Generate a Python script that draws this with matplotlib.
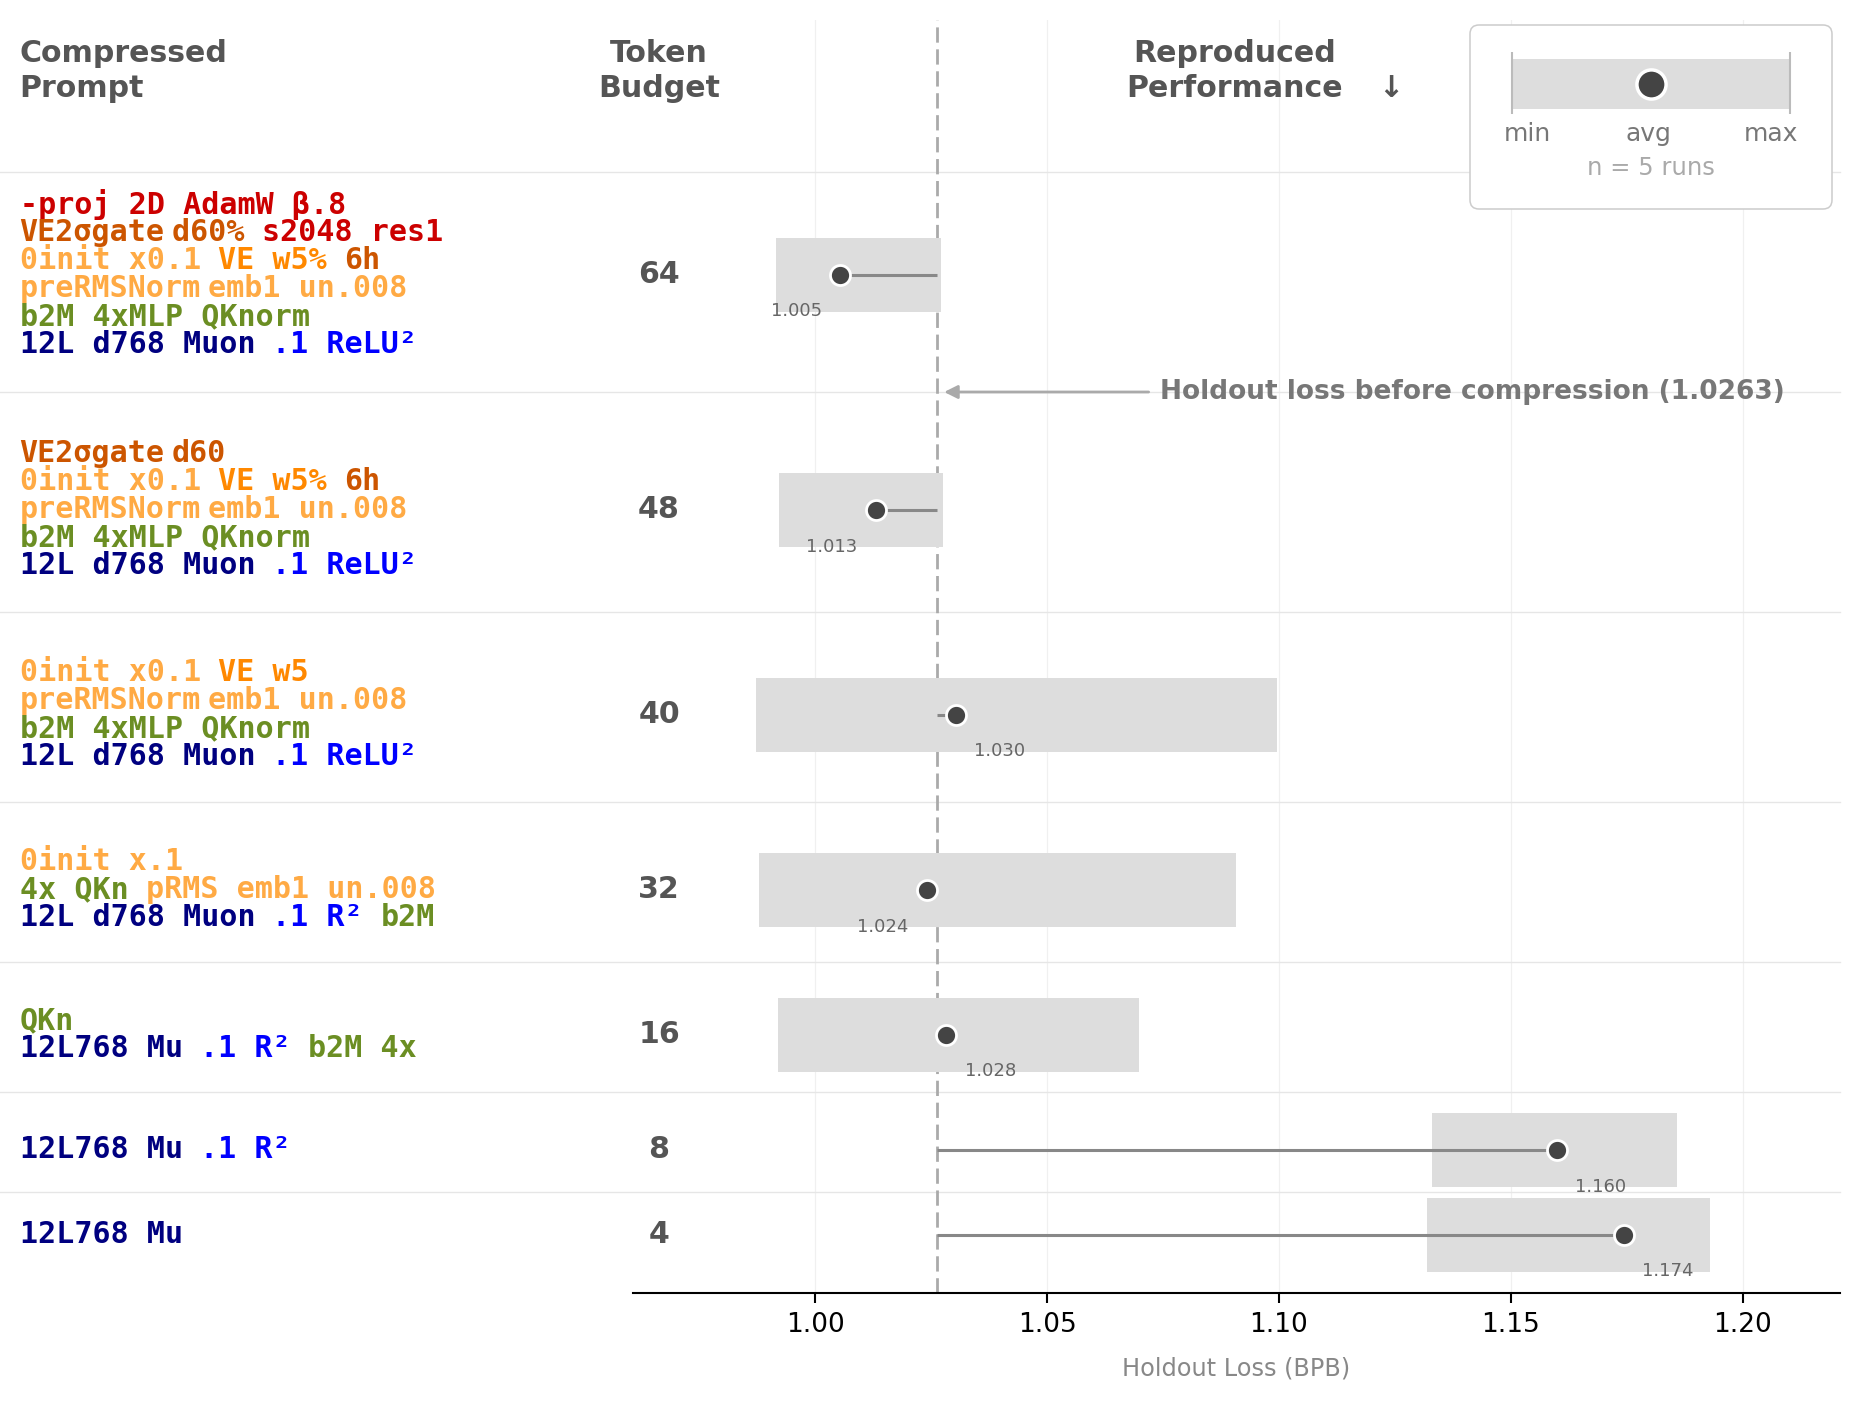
import matplotlib
matplotlib.use("Agg")
import matplotlib.pyplot as plt
from matplotlib.patches import FancyBboxPatch, Rectangle
from matplotlib.transforms import blended_transform_factory

# ---------------- data ----------------
budgets = [64, 48, 40, 32, 16, 8, 4]
loss_avg = [1.0054, 1.0130, 1.0303, 1.0241, 1.0283, 1.1599, 1.1744]
loss_min = [0.9915, 0.9921, 0.9873, 0.9878, 0.9919, 1.1331, 1.1319]
loss_max = [1.0271, 1.0275, 1.0995, 1.0907, 1.0698, 1.1859, 1.1929]
baseline_loss = 1.0263
n_runs = 5
x_ticks = [1.00, 1.05, 1.10, 1.15, 1.20]
x_tick_labels = ["1.00", "1.05", "1.10", "1.15", "1.20"]

RED = "#cc0000"
BURNT = "#cc5500"
ORANGE = "#ff8800"
LIGHT = "#ffaa44"
GREEN = "#6b8e23"
NAVY = "#000080"
BLUE = "#0000ff"

# each prompt: list of lines; each line: list of (text, colour) segments
prompt_64 = [
    [("-proj 2D AdamW β.8", RED)],
    [("VE2σgate", BURNT), ("d60% ", BURNT), ("s2048 res1", RED)],
    [("0init x0.1 ", LIGHT), ("VE w5% ", ORANGE), ("6h", BURNT)],
    [("preRMSNorm", LIGHT), ("emb1 un.008", LIGHT)],
    [("b2M 4xMLP QKnorm", GREEN)],
    [("12L d768 Muon ", NAVY), (".1 ReLU²", BLUE)],
]
prompt_48 = [
    [("VE2σgate", BURNT), ("d60", BURNT)],
    [("0init x0.1 ", LIGHT), ("VE w5% ", ORANGE), ("6h", BURNT)],
    [("preRMSNorm", LIGHT), ("emb1 un.008", LIGHT)],
    [("b2M 4xMLP QKnorm", GREEN)],
    [("12L d768 Muon ", NAVY), (".1 ReLU²", BLUE)],
]
prompt_40 = [
    [("0init x0.1 ", LIGHT), ("VE w5", ORANGE)],
    [("preRMSNorm", LIGHT), ("emb1 un.008", LIGHT)],
    [("b2M 4xMLP QKnorm", GREEN)],
    [("12L d768 Muon ", NAVY), (".1 ReLU²", BLUE)],
]
prompt_32 = [
    [("0init x.1", LIGHT)],
    [("4x QKn ", GREEN), ("pRMS emb1 un.008", LIGHT)],
    [("12L d768 Muon ", NAVY), (".1 R² ", BLUE), ("b2M", GREEN)],
]
prompt_16 = [
    [("QKn", GREEN)],
    [("12L768 Mu ", NAVY), (".1 R² ", BLUE), ("b2M 4x", GREEN)],
]
prompt_8 = [
    [("12L768 Mu ", NAVY), (".1 R²", BLUE)],
]
prompt_4 = [
    [("12L768 Mu", NAVY)],
]
prompts = [prompt_64, prompt_48, prompt_40, prompt_32, prompt_16, prompt_8, prompt_4]

# ---------------- layout (pixels) ----------------
W, H = 1857, 1402
DPI = 100
AX_LEFT, AX_RIGHT, AX_TOP, AX_BOTTOM = 633, 1840, 20, 1293
HEADER_RULE = 172
FIRST_ROW = 274.5
LINE_H = 28
BAR_H = 74
FS_BIG = 21.6
MONO_ADV = 1233 / 2048 * FS_BIG * DPI / 72
TIGHT = 8

HEAD_C = "#555555"
BAR_C = "#dddddd"
DOT_C = "#444444"
SEG_C = "#888888"
DASH_C = "#aaaaaa"
SEP_C = "#e6e6e6"
GRID_C = "#f0f0f0"

# row centres from number of prompt lines
centres = [FIRST_ROW]
for a, b in zip(prompts[:-1], prompts[1:]):
    centres.append(centres[-1] + 55 + 30 * max(len(a), len(b)))

fig = plt.figure(figsize=(W / DPI, H / DPI), dpi=DPI)
fig.patch.set_facecolor("white")

ax = fig.add_axes([AX_LEFT / W, (H - AX_BOTTOM) / H,
                   (AX_RIGHT - AX_LEFT) / W, (AX_BOTTOM - AX_TOP) / H])
ov = fig.add_axes([0, 0, 1, 1], zorder=10)
ov.set_xlim(0, W)
ov.set_ylim(H, 0)
ov.axis("off")

ax.set_xlim(0.9607, 1.221)
ax.set_ylim(AX_BOTTOM, AX_TOP)

# grid
for t in x_ticks:
    ax.axvline(t, color=GRID_C, lw=0.9, zorder=0)

# row separators
sep_tr = blended_transform_factory(ov.transData, ax.transData)
seps = [HEADER_RULE] + [(a + b) / 2 for a, b in zip(centres[:-1], centres[1:])]
for s in seps:
    ax.plot([0, AX_RIGHT], [s, s], color=SEP_C, lw=1.0, transform=sep_tr,
            clip_on=False, zorder=0.5)

# reference line
ax.axvline(baseline_loss, color=DASH_C, lw=2, ls=(0, (5.5, 2.4)), zorder=1)

# min-max bands
ax.barh(centres, [mx - mn for mn, mx in zip(loss_min, loss_max)], left=loss_min,
        height=BAR_H, color=BAR_C, zorder=2)
# segment from baseline to avg
ax.hlines(centres, baseline_loss, loss_avg, color=SEG_C, lw=2.2, zorder=3)
# avg dots
ax.plot(loss_avg, centres, ls="none", marker="o", ms=14.4, mfc=DOT_C, mec="white",
        mew=2, zorder=5)
# value labels
for c, a in zip(centres, loss_avg):
    dx = -0.0095 if a < baseline_loss else 0.0095
    ax.text(a + dx, c + BAR_H / 2, f"{a:.3f}", ha="center", va="center",
            fontsize=13, color="#666666", zorder=6)

# annotation
y_ann = (centres[0] + centres[1]) / 2
ax.annotate(f"Holdout loss before compression ({baseline_loss:.4f})",
            xy=(baseline_loss + 0.0015, y_ann), xytext=(baseline_loss + 0.048, y_ann),
            ha="left", va="center", fontsize=19, fontweight="bold", color="#777777",
            arrowprops=dict(arrowstyle="-|>", color=DASH_C, lw=2, shrinkA=6, shrinkB=0,
                            mutation_scale=20), zorder=6)

# axes styling
for sp in ["top", "right", "left"]:
    ax.spines[sp].set_visible(False)
ax.spines["bottom"].set_linewidth(1.5)
ax.set_yticks([])
ax.set_xticks(x_ticks)
ax.set_xticklabels(x_tick_labels)
ax.tick_params(axis="x", length=7, width=1.5, labelsize=19, pad=7)
ax.set_xlabel("Holdout Loss (BPB)", fontsize=17.3, color="#888888", labelpad=13)

# headers
hkw = dict(fontsize=FS_BIG, fontweight="bold", color=HEAD_C, va="baseline")
ov.text(19.5, 62, "Compressed", ha="left", **hkw)
ov.text(19.5, 97, "Prompt", ha="left", **hkw)
ov.text(659, 62, "Token", ha="center", **hkw)
ov.text(659, 97, "Budget", ha="center", **hkw)
mid = (AX_LEFT + AX_RIGHT) / 2 - 2
ov.text(mid, 62, "Reproduced", ha="center", **hkw)
ov.text(mid, 97, "Performance", ha="center", **hkw)
ov.text(1391, 97, "↓", ha="center", **hkw)

# prompts and budgets
for c, lines, b in zip(centres, prompts, budgets):
    n = len(lines)
    for j, line in enumerate(lines):
        y = c + (j - (n - 1) / 2) * LINE_H
        x = 19.5
        for seg, col in line:
            ov.text(x, y, seg, ha="left", va="center", fontsize=FS_BIG,
                    fontfamily="DejaVu Sans Mono", fontweight="bold", color=col)
            x += len(seg) * MONO_ADV + (0 if seg.endswith(" ") else TIGHT)
    ov.text(659, c, str(b), ha="center", va="center", fontsize=FS_BIG,
            fontweight="bold", color=HEAD_C)

# legend key
ov.add_patch(FancyBboxPatch((1470, 25), 362, 184,
                            boxstyle="round,pad=0,rounding_size=9",
                            ec="#cccccc", fc="white", lw=1.1, zorder=1))
ov.add_patch(Rectangle((1512, 59), 278, 50, fc=BAR_C, ec="none", zorder=2))
ov.vlines([1512, 1790], 52, 114, color="#bbbbbb", lw=1.5, zorder=3)
ov.plot([1651], [84], ls="none", marker="o", ms=21, mfc=DOT_C, mec="white", mew=2.5,
        zorder=4)
lkw = dict(fontsize=18, color="#777777", ha="center", va="center", zorder=4)
ov.text(1527, 134, "min", **lkw)
ov.text(1648, 134, "avg", **lkw)
ov.text(1771, 134, "max", **lkw)
ov.text(1651, 168, f"n = {n_runs} runs", fontsize=17.5, color="#aaaaaa", ha="center",
        va="center", zorder=4)

fig.savefig("out.png", dpi=DPI, facecolor="white")
